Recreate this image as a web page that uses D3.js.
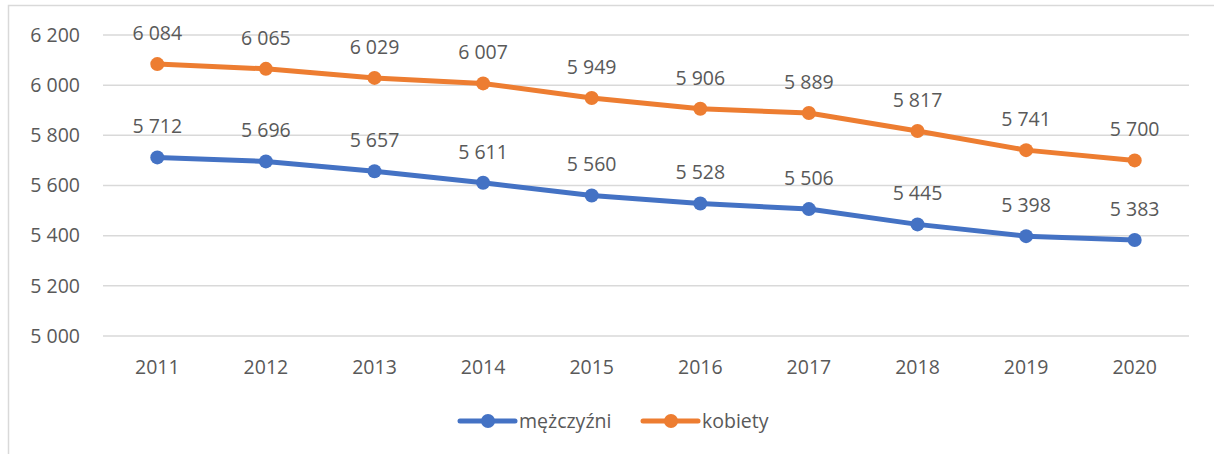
<!DOCTYPE html>
<html>
<head>
<meta charset="utf-8">
<script src="https://cdn.jsdelivr.net/npm/d3@7"></script>
<style>
  body { margin: 0; background: #fff; }
  svg text { font-family: "Open Sans", "DejaVu Sans", sans-serif; fill: #595959; }
</style>
</head>
<body>
<div class="chart"></div>
<script>
const years = ['2011','2012','2013','2014','2015','2016','2017','2018','2019','2020'];
const men = [5712, 5696, 5657, 5611, 5560, 5528, 5506, 5445, 5398, 5383];
const women = [6084, 6065, 6029, 6007, 5949, 5906, 5889, 5817, 5741, 5700];
const yTicks = [5000, 5200, 5400, 5600, 5800, 6000, 6200];
const seriesNames = ['mężczyźni', 'kobiety'];
const colors = ['#4472C4', '#ED7D31'];

const width = 1214, height = 454;
const margin = { top: 35, right: 25, bottom: 118, left: 103 };
const fontSize = '19.5px';

const fmt = v => d3.format(',')(v).replace(/,/g, ' ');

const svg = d3.select('.chart').append('svg')
    .attr('width', width)
    .attr('height', height);

// chart frame (cut off on right and bottom)
svg.append('path')
    .attr('d', `M8.5,${height} V5.5 H${width}`)
    .style('fill', 'none')
    .style('stroke', '#d9d9d9')
    .style('stroke-width', 1.5);

const x = d3.scaleBand()
    .domain(years)
    .range([margin.left, width - margin.right]);
const y = d3.scaleLinear()
    .domain([5000, 6200])
    .range([height - margin.bottom, margin.top]);

// grid
svg.append('g')
    .selectAll('line')
    .data(yTicks)
    .enter()
    .append('line')
    .attr('x1', margin.left)
    .attr('x2', width - margin.right)
    .attr('y1', d => y(d))
    .attr('y2', d => y(d))
    .style('stroke', '#d9d9d9')
    .style('stroke-width', 1.5);

// y labels
svg.append('g')
    .selectAll('text')
    .data(yTicks)
    .enter()
    .append('text')
    .attr('x', 80)
    .attr('y', d => y(d))
    .attr('dy', '0.35em')
    .attr('text-anchor', 'end')
    .style('font-size', fontSize)
    .text(d => fmt(d));

// x labels
svg.append('g')
    .selectAll('text')
    .data(years)
    .enter()
    .append('text')
    .attr('x', d => x(d) + x.bandwidth() / 2)
    .attr('y', y(5000) + 31)
    .attr('dy', '0.35em')
    .attr('text-anchor', 'middle')
    .style('font-size', fontSize)
    .text(d => d);

const data = [men, women].map((vals, i) => ({
    name: seriesNames[i],
    color: colors[i],
    points: vals.map((v, j) => ({ year: years[j], value: v }))
}));

const line = d3.line()
    .x(d => x(d.year) + x.bandwidth() / 2)
    .y(d => y(d.value));

const groups = svg.selectAll('.line-group')
    .data(data)
    .enter()
    .append('g')
    .attr('class', 'line-group');

groups.append('path')
    .attr('d', d => line(d.points))
    .style('fill', 'none')
    .style('stroke', d => d.color)
    .style('stroke-width', 5)
    .style('stroke-linejoin', 'round')
    .style('stroke-linecap', 'round');

groups.selectAll('circle')
    .data(d => d.points.map(p => ({ ...p, color: d.color })))
    .enter()
    .append('circle')
    .attr('cx', d => x(d.year) + x.bandwidth() / 2)
    .attr('cy', d => y(d.value))
    .attr('r', 7)
    .style('fill', d => d.color);

groups.selectAll('.label')
    .data(d => d.points)
    .enter()
    .append('text')
    .attr('class', 'label')
    .attr('x', d => x(d.year) + x.bandwidth() / 2)
    .attr('y', d => y(d.value) - 31)
    .attr('dy', '0.35em')
    .attr('text-anchor', 'middle')
    .style('font-size', fontSize)
    .text(d => fmt(d.value));

// legend
const legendX = [460, 643];
const legend = svg.selectAll('.legend')
    .data(data)
    .enter()
    .append('g')
    .attr('class', 'legend')
    .attr('transform', (d, i) => `translate(${legendX[i]}, 421)`);

legend.append('line')
    .attr('x1', 0).attr('x2', 55)
    .style('stroke', d => d.color)
    .style('stroke-width', 5)
    .style('stroke-linecap', 'round');
legend.append('circle')
    .attr('cx', 28).attr('r', 7)
    .style('fill', d => d.color);
legend.append('text')
    .attr('x', 59)
    .attr('dy', '0.35em')
    .style('font-size', fontSize)
    .text(d => d.name);
</script>
</body>
</html>
